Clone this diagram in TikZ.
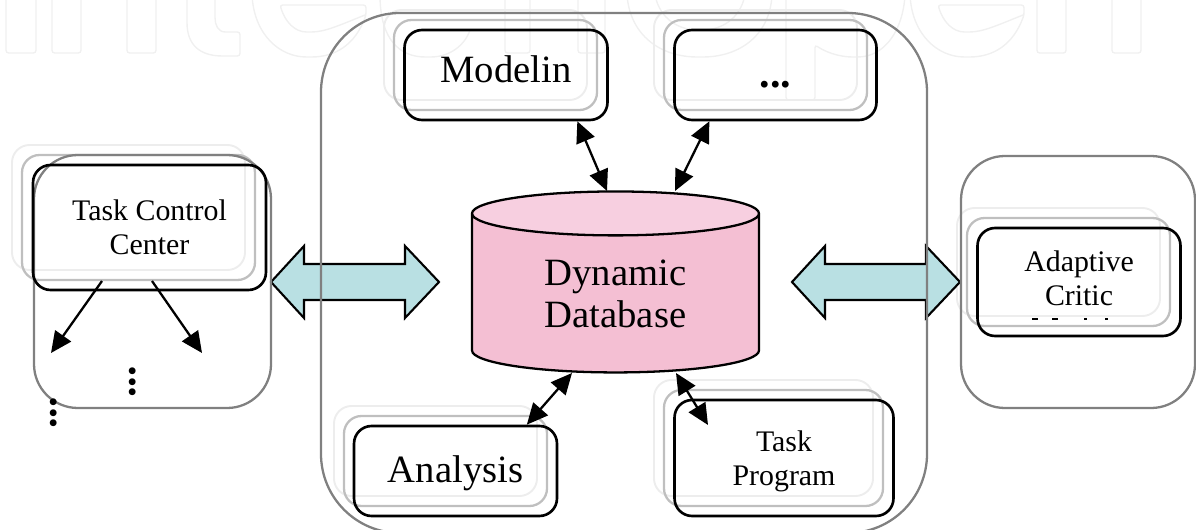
\documentclass[tikz,border=0pt]{standalone}
\usepackage{fontspec}
\setmainfont{Liberation Serif}
\usepackage{xcolor}
\usepackage{tikz}
\usetikzlibrary{arrows.meta}
\usetikzlibrary{shapes.geometric}
\definecolor{dbbody}{HTML}{F4BFD3}
\definecolor{dbtopc}{HTML}{F7CFE0}
\definecolor{linkteal}{HTML}{B9E0E3}
\tikzset{
	wmark/.style={draw=black!6,line width=.8pt,rounded corners=1.5pt},
	ghostfar/.style={draw=black!7,line width=1.1pt,rounded corners=10pt},
	ghostnear/.style={draw=black!25,line width=1.3pt,rounded corners=10pt},
	outerbox/.style={draw=black!50,line width=1.3pt,rounded corners=#1},
	innerbox/.style={draw=black,line width=1.5pt,rounded corners=10pt,align=center,inner sep=0pt},
	bigtext/.style={font=\fontsize{22}{24}\selectfont,align=center,inner sep=0pt},
	smalltext/.style={font=\fontsize{17}{19.4}\selectfont,align=center,inner sep=0pt},
	dotrow/.style={font=\fontsize{24}{24}\selectfont\bfseries,inner sep=0pt},
	twoway/.style={line width=1.3pt,{Triangle[length=12pt,width=11pt]}-{Triangle[length=12pt,width=11pt]}},
	oneway/.style={line width=1.3pt,-{Triangle[length=12pt,width=11pt]}},
	linkarrow/.style={draw=black,fill=linkteal,line width=1.2pt},
}
\begin{document}
\begin{tikzpicture}[x=.02cm,y=-.02cm]
			\useasboundingbox (0,0) rectangle (1196,530);
			%% watermark
			\foreach \xa/\xb in {6/36,52/81,127/156,505/530,578/605,1037/1066,1112/1141}
				\draw[wmark] (\xa,-5) -- (\xa,53) -- (\xb,53) -- (\xb,-5);
			\draw[wmark] (187,-5) -- (187,20) .. controls (187,45) and (200,56) .. (225,56) -- (240,56) -- (240,32) -- (228,32) .. controls (218,32) and (215,25) .. (215,15) -- (215,-5);
			\foreach \xs in {0,658}
				\draw[wmark,shift={(\xs,0)}] (252,-5) .. controls (254,35) and (280,57) .. (309,57) .. controls (335,57) and (355,45) .. (366,15) -- (366,5) -- (280,5) .. controls (285,22) and (295,32) .. (309,32) .. controls (325,32) and (340,25) .. (365,15);
			\draw[wmark] (380,-5) .. controls (380,40) and (400,57) .. (428,57) .. controls (450,57) and (465,45) .. (470,30);
			\draw[wmark] (627,-5) .. controls (630,35) and (660,57) .. (700,57) .. controls (740,57) and (770,35) .. (772,-5);
			\draw[wmark] (655,-5) .. controls (660,20) and (680,30) .. (700,30) .. controls (720,30) and (740,20) .. (745,-5);
			\draw[wmark] (786,-5) -- (786,100) -- (815,100) -- (815,45) .. controls (830,55) and (845,57) .. (855,57) .. controls (885,57) and (903,30) .. (905,-5);
			%% ghost boxes
			\draw[ghostfar] (12,145) rectangle (245,270);
			\draw[ghostnear] (22,155) rectangle (255,280);
			\draw[ghostfar] (384,10) rectangle (587,100);
			\draw[ghostnear] (394,20) rectangle (597,110);
			\draw[ghostfar] (654,10) rectangle (857,100);
			\draw[ghostnear] (664,20) rectangle (867,110);
			\draw[ghostfar] (334,406) rectangle (537,496);
			\draw[ghostnear] (344,416) rectangle (547,506);
			\draw[ghostfar] (654,380) rectangle (873,496);
			\draw[ghostnear] (664,390) rectangle (883,506);
			\draw[ghostfar] (957,208) rectangle (1160,316);
			\draw[ghostnear] (967,218) rectangle (1170,326);
			%% links
			\foreach \xs in {0,521}
				\draw[linkarrow,shift={(\xs,0)}] (271,282) -- (304,246) -- (304,264) -- (405,264) -- (405,246) -- (439,282) -- (405,318) -- (405,300) -- (304,300) -- (304,318) -- cycle;
			%% outer boxes
			\draw[outerbox=45pt] (321,13) rectangle (927,533);
			\draw[outerbox=25pt] (34,155) rectangle (271,408);
			\draw[outerbox=25pt] (961,156) rectangle (1195,408);
			%% database
			\node[shape=cylinder,shape border rotate=90,aspect=.31,draw=black,line width=1.3pt,
				cylinder uses custom fill,cylinder body fill=dbbody,cylinder end fill=dbtopc,
				minimum width=5.74cm,minimum height=3.62cm,inner sep=0pt,bigtext] (db) at (615.5,293.5) {Dynamic\\Database};
			%% boxes
			\node[innerbox,minimum width=4.06cm,minimum height=1.8cm] (modelin) at (506,75) {};
			\node[bigtext] (modelintxt) at (506,69) {Modelin};
			\node[innerbox,minimum width=4.04cm,minimum height=1.8cm] (more) at (775.5,75) {};
			\node[dotrow] (moredots) at (775.5,85) {...};
			\node[innerbox,minimum width=4.06cm,minimum height=1.8cm] (analysis) at (455.5,471) {};
			\node[bigtext] (analysistxt) at (455.5,473) {Analysis};
			\node[innerbox,minimum width=4.38cm,minimum height=2.32cm] (taskprog) at (784,458) {};
			\node[smalltext] (taskprogtxt) at (784,461) {Task\\Program};
			\node[innerbox,minimum width=4.66cm,minimum height=2.5cm,smalltext] (taskctrl) at (149.5,227.5) {Task Control\\Center};
			\node[innerbox,minimum width=4.06cm,minimum height=2.16cm] (critic) at (1079,282) {};
			\node[smalltext] (critictxt) at (1079,278) {Adaptive\\Critic};
			\draw[line width=.9pt] (1032,319) -- (1038,319) (1052,319) -- (1058,319) (1084,319) -- (1087,319) (1105,319) -- (1108,319);
			%% dots
			\node[dotrow,rotate=90] (dotsa) at (133,382) {...};
			\node[dotrow,rotate=90] (dotsb) at (53.5,413) {...};
			%% lines
			\coordinate (dbtopa) at (607,191);
			\coordinate (dbtopb) at (675,191);
			\coordinate (dbbota) at (572,373);
			\coordinate (dbbotb) at (676,373);
			\coordinate (progend) at (708,425);
			\coordinate (ctrla) at (102,281);
			\coordinate (ctrlb) at (152,281);
			\coordinate (downa) at (51,353);
			\coordinate (downb) at (202,353);
			\draw[twoway] (modelin.-33.5) -- (dbtopa);
			\draw[twoway] (more.-145.7) -- (dbtopb);
			\draw[twoway] (dbbota) -- (analysis.33.3);
			\draw[twoway] (dbbotb) -- (progend);
			\draw[oneway] (ctrla) -- (downa);
			\draw[oneway] (ctrlb) -- (downb);
		\end{tikzpicture}
\end{document}
